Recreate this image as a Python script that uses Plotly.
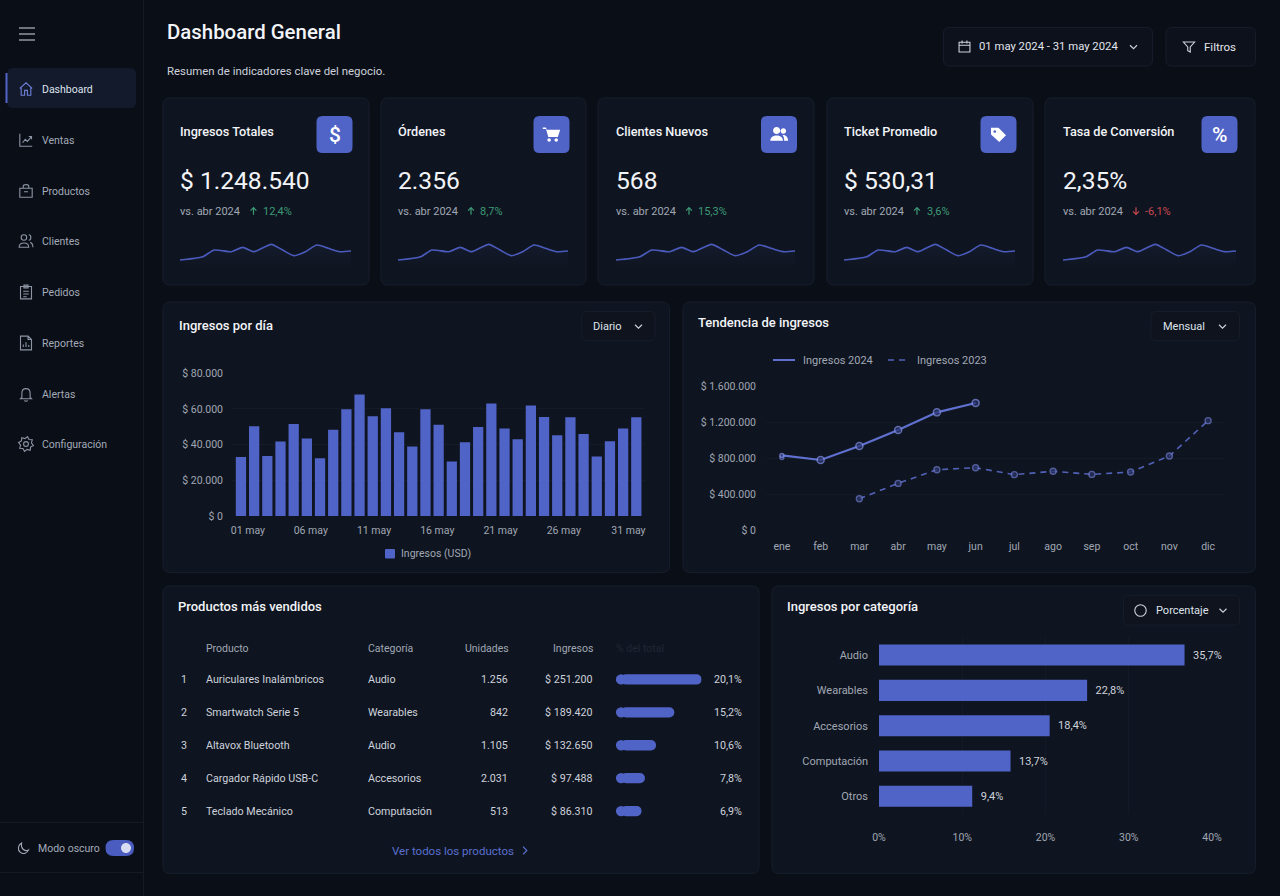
import math
import re
import plotly.graph_objects as go

# ---- data ----
nav_labels = ["Dashboard", "Ventas", "Productos", "Clientes", "Pedidos", "Reportes", "Alertas", "Configuración"]

kpi_titles = ["Ingresos Totales", "Órdenes", "Clientes Nuevos", "Ticket Promedio", "Tasa de Conversión"]
kpi_values = ["$ 1.248.540", "2.356", "568", "$ 530,31", "2,35%"]
kpi_deltas = ["12,4%", "8,7%", "15,3%", "3,6%", "-6,1%"]
kpi_up = [True, True, True, True, False]

spark_days = [1, 5, 7, 10, 12, 14, 17, 19, 21, 23, 25, 27, 29, 31]
spark_values = [20, 30, 50, 45, 58, 45, 67, 50, 33, 45, 65, 55, 45, 47]

days = list(range(1, 32))
daily_income = [33100, 50300, 33700, 41700, 51600, 43400, 32400, 48300, 59800, 68100, 55900, 60400,
                46900, 38900, 59800, 51200, 30500, 41300, 49900, 63000, 49000, 43000, 61900, 55500,
                45300, 55400, 46000, 33300, 41900, 49000, 55400]
day_labels = ["01 may", "06 may", "11 may", "16 may", "21 may", "26 may", "31 may"]
day_y_vals = [0, 20000, 40000, 60000, 80000]
day_y_text = ["$ 0", "$ 20.000", "$ 40.000", "$ 60.000", "$ 80.000"]

months = ["ene", "feb", "mar", "abr", "may", "jun", "jul", "ago", "sep", "oct", "nov", "dic"]
income_2024 = [829000, 778000, 933000, 1111000, 1307000, 1411000, None, None, None, None, None, None]
income_2023 = [805000, None, 348000, 518000, 670000, 692000, 615000, 652000, 618000, 644000, 822000, 1215000]
month_y_vals = [0, 400000, 800000, 1200000, 1600000]
month_y_text = ["$ 0", "$ 400.000", "$ 800.000", "$ 1.200.000", "$ 1.600.000"]

table_head = ["Producto", "Categoría", "Unidades", "Ingresos", "% del total"]
products = ["Auriculares Inalámbricos", "Smartwatch Serie 5", "Altavox Bluetooth", "Cargador Rápido USB-C", "Teclado Mecánico"]
product_cats = ["Audio", "Wearables", "Audio", "Accesorios", "Computación"]
product_units = ["1.256", "842", "1.105", "2.031", "513"]
product_income = ["$ 251.200", "$ 189.420", "$ 132.650", "$ 97.488", "$ 86.310"]
product_share = ["20,1%", "15,2%", "10,6%", "7,8%", "6,9%"]
product_bar_lengths = [20.1, 13.7, 9.4, 6.8, 6.0]

categories = ["Audio", "Wearables", "Accesorios", "Computación", "Otros"]
category_bar_lengths = [36.7, 25.0, 20.5, 15.8, 11.2]
category_labels = ["35,7%", "22,8%", "18,4%", "13,7%", "9,4%"]
category_x_vals = [0, 10, 20, 30, 40]
category_x_text = ["0%", "10%", "20%", "30%", "40%"]

# ---- colours ----
BG = "#0a0e17"
CARD = "#0f1520"
BORDER = "#161d2a"
GRID = "#141b27"
BLUE = "#5063c6"
TXT = "#f2f4f8"
TXT2 = "#cdd2dc"
TXT3 = "#a0a7b4"
FONT = "Roboto"
W, H = 1280, 896

shapes = []
notes = []


def rrect(x0, y0, x1, y1, r, fill=None, line=None, lw=1):
    d = (f"M{x0+r} {y0} L{x1-r} {y0} Q{x1} {y0} {x1} {y0+r} L{x1} {y1-r} Q{x1} {y1} {x1-r} {y1} "
         f"L{x0+r} {y1} Q{x0} {y1} {x0} {y1-r} L{x0} {y0+r} Q{x0} {y0} {x0+r} {y0} Z")
    shapes.append(dict(type="path", path=d, xref="x", yref="y", layer="below", fillcolor=fill or "rgba(0,0,0,0)",
                       line=dict(color=line or "rgba(0,0,0,0)", width=lw if line else 0)))


def circ(cx, cy, r):
    k = 0.552 * r
    return (f"M{cx+r} {cy} C{cx+r} {cy+k} {cx+k} {cy+r} {cx} {cy+r} C{cx-k} {cy+r} {cx-r} {cy+k} {cx-r} {cy} "
            f"C{cx-r} {cy-k} {cx-k} {cy-r} {cx} {cy-r} C{cx+k} {cy-r} {cx+r} {cy-k} {cx+r} {cy} Z")


def icon(d, cx, cy, size, line=None, fill=None, lw=1.1):
    # icon paths are written in a 24x24 box, moved and scaled to the page here
    s = size / 24
    out = []
    for cmd, args in re.findall(r"([MLCQZ])([^MLCQZ]*)", d):
        nums = [float(n) for n in args.split()]
        pts = []
        for i, n in enumerate(nums):
            pts.append(f"{(n - 12) * s + (cy if i % 2 else cx):.2f}")
        out.append(cmd + " ".join(pts))
    shapes.append(dict(type="path", path=" ".join(out), xref="x", yref="y", layer="below",
                       fillcolor=fill or "rgba(0,0,0,0)",
                       line=dict(color=line or "rgba(0,0,0,0)", width=lw if line else 0)))


def txt(x, y, s, size=11, color=TXT2, anchor="left", weight=400):
    notes.append(dict(x=x, y=y, xref="x", yref="y", text=s, showarrow=False, xanchor=anchor, yanchor="middle",
                      borderpad=0, borderwidth=0, font=dict(family=FONT, size=size, color=color, weight=weight)))


def hline(x0, x1, y, color=BORDER, dash="solid", lw=1):
    shapes.append(dict(type="line", x0=x0, x1=x1, y0=y, y1=y, xref="x", yref="y", layer="below",
                       line=dict(color=color, width=lw, dash=dash)))


def xdom(x0, x1):
    return [x0 / W, x1 / W]


def ydom(y0, y1):
    return [1 - y1 / H, 1 - y0 / H]


def gear_path():
    pts = []
    for i in range(16):
        a = i * math.pi / 8 + math.pi / 16
        r = 11 if i % 2 == 0 else 8
        pts.append(f"{12 + r * math.cos(a):.2f} {12 + r * math.sin(a):.2f}")
    return "M" + " L".join(pts) + " Z " + circ(12, 12, 3.5)


CHEVRON = "M6 9 L12 15 L18 9"
CHEVRON_R = "M9 6 L15 12 L9 18"
nav_icons = [
    "M3 11 L12 3 L21 11 M5 9 L5 21 L10 21 L10 14 L14 14 L14 21 L19 21 L19 9",
    "M3 3 L3 21 L21 21 M7 16 L11 11 L14 14 L20 7 M16 7 L20 7 L20 11",
    "M3 8 L21 8 L21 21 L3 21 Z M8 8 L8 5 C8 2 16 2 16 5 L16 8 M9 13 L15 13",
    circ(9, 7, 4) + " M2 21 C2 13 16 13 16 21 Z M16 3 C20 3 20 11 16 11 M18 14 C21 15 22 18 22 21",
    "M4 4 L20 4 L20 22 L4 22 Z M9 2 L15 2 L15 6 L9 6 Z M8 11 L16 11 M8 15 L16 15 M8 19 L13 19",
    "M4 2 L15 2 L20 7 L20 22 L4 22 Z M15 2 L15 7 L20 7 M8 18 L8 14 M12 18 L12 11 M16 18 L16 15",
    "M6 17 L6 11 C6 2 18 2 18 11 L18 17 L20 19 L4 19 Z M10 21 C10 23 14 23 14 21",
    gear_path(),
]
nav_y = [89, 140, 191, 241, 292, 343, 394, 444]

# ---- sidebar ----
shapes.append(dict(type="line", x0=143.5, x1=143.5, y0=0, y1=H, xref="x", yref="y", layer="below",
                   line=dict(color="#141a26", width=1)))
for yy in (28, 34, 40):
    hline(19, 35, yy, "#d5d9e2")
rrect(7, 68, 136, 108, 6, fill="#121a2c")
shapes.append(dict(type="line", x0=6.5, x1=6.5, y0=73, y1=103, xref="x", yref="y", layer="below",
                   line=dict(color=BLUE, width=2)))
for i, lab in enumerate(nav_labels):
    sel = i == 0
    txt(42, nav_y[i], lab, 10.5, "#dfe3ec" if sel else "#a3aab8")
    icon(nav_icons[i], 26, nav_y[i], 16.5, line="#6f80d8" if sel else "#8d94a3")
hline(0, 143, 822.5, "#141a26")
hline(0, 143, 872.5, "#141a26")
icon("M20 15 C15 18 7 14 9 4 C3 7 2 15 7 19 C12 23 18 20 20 15 Z", 23.5, 848, 15, line="#a3aab8")
txt(38, 848, "Modo oscuro", 10.5, "#a3aab8")
rrect(105.5, 840, 134, 856, 8, fill="#4a5cc0")
icon(circ(12, 12, 12), 126, 848, 10, fill="#d8dcf2")

# ---- header ----
txt(167, 32, "Dashboard General", 20.4, TXT, weight=500)
txt(167, 70.5, "Resumen de indicadores clave del negocio.", 11.4, TXT2)
rrect(943.5, 27.5, 1152.5, 66, 6, fill="#0c111b", line=BORDER)
rrect(1166, 27.5, 1255.5, 66, 6, fill="#0c111b", line=BORDER)
icon("M3 5 L21 5 L21 21 L3 21 Z M3 10 L21 10 M8 2 L8 7 M16 2 L16 7", 964.5, 46.5, 14.5, line="#cdd2dc")
txt(979, 46.5, "01 may 2024 - 31 may 2024", 11.3, "#e2e5ec")
icon(CHEVRON, 1133.5, 47, 14, line="#cdd2dc")
icon("M3 4 L21 4 L14 12 L14 20 L10 18 L10 12 Z", 1189, 47, 15, line="#cdd2dc")
txt(1204, 46.5, "Filtros", 11.5, "#e2e5ec")

# ---- kpi cards ----
kpi_cards = [(163, 369), (381, 586), (598, 814), (827, 1033), (1045, 1255)]
kpi_icon_x = [334.5, 551.5, 779, 998.5, 1219.5]
kpi_spark_x = [(180, 351), (398, 568), (616, 795), (844, 1015), (1063, 1236)]
kpi_arrow_x = [253.5, 471, 689, 917, 1136]
kpi_delta_x = [263, 480, 698, 927, 1145]

for i, (x0, x1) in enumerate(kpi_cards):
    rrect(x0, 98, x1, 285, 7, fill=CARD, line=BORDER)
    tx = kpi_spark_x[i][0]
    txt(tx, 131, kpi_titles[i], 12.7, TXT, weight=500)
    txt(tx, 180, kpi_values[i], 24.6, TXT)
    txt(tx, 211, "vs. abr 2024", 11, TXT3)
    col = "#3c9a76" if kpi_up[i] else "#c9464f"
    ax = kpi_arrow_x[i]
    if kpi_up[i]:
        icon("M12 21 L12 4 M5 11 L12 4 L19 11", ax, 211, 10, line=col, lw=1.2)
    else:
        icon("M12 3 L12 20 M5 13 L12 20 L19 13", ax, 211, 10, line=col, lw=1.2)
    txt(kpi_delta_x[i], 211, kpi_deltas[i], 11, col)
    ix = kpi_icon_x[i]
    rrect(ix - 18, 116, ix + 18, 153, 6, fill=BLUE)

txt(kpi_icon_x[0], 134.5, "$", 21, "#ffffff", "center", 500)
icon("M1 3 L5 3 L6 6 L23 6 L20 15 L8 15 L5 5 L1 5 Z " + circ(9, 19, 2.2) + " " + circ(18, 19, 2.2),
     kpi_icon_x[1], 134.5, 19, fill="#ffffff")
icon(circ(9, 7, 4.5) + " M1 20 C1 11 17 11 17 20 Z " + circ(17.5, 7.5, 3.5) + " M18.5 20 C18.5 17 18 14 16.5 12.8 C20 12 23.5 15 23.5 20 Z",
     kpi_icon_x[2], 134.5, 19, fill="#ffffff")
icon("M2 3 L12 3 L22 13 L13 22 L2 12 Z", kpi_icon_x[3], 134.5, 18, fill="#ffffff")
icon(circ(7, 8, 1.8), kpi_icon_x[3], 134.5, 18, fill=BLUE)
txt(kpi_icon_x[4], 134.5, "%", 21, "#ffffff", "center", 500)

# ---- chart cards ----
rrect(163, 302, 669.5, 572.5, 7, fill=CARD, line=BORDER)
rrect(683, 302, 1255.5, 572.5, 7, fill=CARD, line=BORDER)
rrect(163, 586, 759, 873.5, 7, fill=CARD, line=BORDER)
rrect(772, 586, 1255.5, 873.5, 7, fill=CARD, line=BORDER)

txt(179, 325, "Ingresos por día", 13, TXT, weight=500)
txt(698, 322, "Tendencia de ingresos", 13, TXT, weight=500)
txt(178, 606, "Productos más vendidos", 13, TXT, weight=500)
txt(787, 606, "Ingresos por categoría", 13, TXT, weight=500)

rrect(582, 311.5, 655, 340.5, 5, fill="#0e131d", line=BORDER)
txt(607.5, 326, "Diario", 11, "#dfe3ec", "center")
icon(CHEVRON, 638.5, 326.5, 14, line="#cdd2dc")
rrect(1151, 311.5, 1239.5, 340.5, 5, fill="#0e131d", line=BORDER)
txt(1184, 326, "Mensual", 11, "#dfe3ec", "center")
icon(CHEVRON, 1222.5, 326.5, 14, line="#cdd2dc")
rrect(1123.5, 595.5, 1239.5, 625, 5, fill="#0e131d", line=BORDER)
icon(circ(12, 12, 11), 1140.5, 610.5, 12.5, line="#cdd2dc")
txt(1182, 610.5, "Porcentaje", 11, "#dfe3ec", "center")
icon(CHEVRON, 1223, 610.5, 14, line="#cdd2dc")

# ---- legends ----
rrect(385, 549, 395, 558.5, 1, fill=BLUE)
txt(401, 553.5, "Ingresos (USD)", 10.5, TXT3)
hline(773, 795, 360, "#5f6fce", lw=2)
txt(803, 360, "Ingresos 2024", 11, TXT3)
hline(888, 909, 360, "#5261b8", dash="6px,5px", lw=1.6)
txt(917, 360, "Ingresos 2023", 11, TXT3)

# ---- table text ----
txt(206, 648, table_head[0], 10.5, TXT3)
txt(368, 648, table_head[1], 10.5, TXT3)
txt(509, 648, table_head[2], 10.5, TXT3, "right")
txt(593, 648, table_head[3], 10.5, TXT3, "right")
txt(616, 648, table_head[4], 10.5, "#1f2735")
row_y = [679.5, 712, 745, 778, 811]
for i in range(5):
    txt(180.5, row_y[i], str(i + 1), 10.7, TXT2)
    txt(206, row_y[i], products[i], 10.7, TXT2)
    txt(368, row_y[i], product_cats[i], 10.7, TXT2)
    txt(508, row_y[i], product_units[i], 10.7, TXT2, "right")
    txt(593, row_y[i], product_income[i], 10.7, TXT2, "right")
    txt(742, row_y[i], product_share[i], 10.7, TXT2, "right")
txt(392, 850.5, "Ver todos los productos", 11.5, "#5a6fd0")
icon(CHEVRON_R, 525, 850.5, 15, line="#5a6fd0")

# ---- traces ----
traces = []
tick_font = dict(family=FONT, size=10.5, color=TXT3)

traces.append(go.Scatter(x=[None], y=[None], xaxis="x", yaxis="y", showlegend=False, hoverinfo="skip"))

traces.append(go.Bar(x=days, y=daily_income, name="Ingresos (USD)", marker=dict(color=BLUE, line_width=0),
                     width=0.78, xaxis="x2", yaxis="y2", showlegend=False))

traces.append(go.Scatter(x=months, y=income_2023, mode="lines+markers", name="Ingresos 2023", xaxis="x3", yaxis="y3",
                         line=dict(color="#5261b8", width=1.6, dash="6px,5px"), showlegend=False,
                         marker=dict(size=[4] + [6] * 11, color="#2b3468", line=dict(color="#6f7dd0", width=1.4))))
traces.append(go.Scatter(x=months, y=income_2024, mode="lines+markers", name="Ingresos 2024", xaxis="x3", yaxis="y3",
                         line=dict(color="#5f70d0", width=2.2), showlegend=False,
                         marker=dict(size=[4] + [7] * 11, color="#2a3470", line=dict(color="#8391e6", width=1.5))))

cap = 1.2
traces.append(go.Bar(x=[v - cap for v in product_bar_lengths], y=products, base=cap, orientation="h", showlegend=False,
                     width=0.313, marker=dict(color=BLUE, line_width=0, cornerradius=5), xaxis="x4", yaxis="y4"))
traces.append(go.Scatter(x=[cap] * 5, y=products, mode="markers", showlegend=False, xaxis="x4", yaxis="y4",
                         marker=dict(size=10.3, color=BLUE, line_width=0)))

traces.append(go.Bar(x=category_bar_lengths, y=categories, orientation="h", showlegend=False, xaxis="x5", yaxis="y5",
                     width=0.595, marker=dict(color=BLUE, line_width=0),
                     text=["\u00a0\u00a0" + t for t in category_labels], textposition="outside", cliponaxis=False,
                     textfont=dict(family=FONT, size=11, color=TXT2)))

layout = dict(
    width=W, height=H, margin=dict(l=0, r=0, t=0, b=0, pad=0, autoexpand=False),
    paper_bgcolor=BG, plot_bgcolor="rgba(0,0,0,0)",
    barmode="overlay", font=dict(family=FONT), hovermode=False, shapes=shapes, annotations=notes, showlegend=False,
    xaxis=dict(domain=[0, 1], range=[0, W], visible=False, fixedrange=True),
    yaxis=dict(domain=[0, 1], range=[H, 0], visible=False, fixedrange=True),
    xaxis2=dict(domain=xdom(232, 645), range=[0.32, 31.66], anchor="y2", showgrid=False, zeroline=False,
                tickmode="array", tickvals=[1.53, 6.3, 11.1, 15.9, 20.7, 25.5, 30.4], ticktext=day_labels,
                tickfont=tick_font, ticks="", ticklabelstandoff=6, fixedrange=True),
    yaxis2=dict(domain=ydom(373.3, 516), range=[0, 80000], anchor="x2", gridcolor=GRID, zeroline=False,
                tickmode="array", tickvals=day_y_vals, ticktext=day_y_text, tickfont=tick_font,
                ticks="", ticklabelstandoff=8, fixedrange=True),
    xaxis3=dict(domain=xdom(766, 1224), range=[-0.41, 11.41], anchor="y3", type="category",
                categoryorder="array", categoryarray=months, showgrid=False, zeroline=False,
                tickfont=tick_font, ticks="", ticklabelstandoff=8, fixedrange=True),
    yaxis3=dict(domain=ydom(386, 530), range=[0, 1600000], anchor="x3", gridcolor=GRID, zeroline=False,
                tickmode="array", tickvals=month_y_vals, ticktext=month_y_text, tickfont=tick_font,
                ticks="", ticklabelstandoff=9, fixedrange=True),
    xaxis4=dict(domain=xdom(616, 701.6), range=[0, 20.1], anchor="y4", visible=False, fixedrange=True),
    yaxis4=dict(domain=ydom(663, 827.5), anchor="x4", type="category", categoryorder="array",
                categoryarray=products[::-1], visible=False, fixedrange=True),
    xaxis5=dict(domain=xdom(879, 1212), range=[0, 40], anchor="y5", gridcolor="#131a27", zeroline=False,
                tickmode="array", tickvals=category_x_vals, ticktext=category_x_text, tickfont=tick_font,
                ticks="", ticklabelstandoff=15, fixedrange=True),
    yaxis5=dict(domain=ydom(637.4, 814), anchor="x5", type="category", categoryorder="array",
                categoryarray=categories[::-1], showgrid=False, zeroline=False,
                tickfont=dict(family=FONT, size=11, color=TXT3), ticks="", ticklabelstandoff=10, fixedrange=True),
)

# sparklines, one small pair of axes per card
for i, (x0, x1) in enumerate(kpi_spark_x):
    n = i + 6
    traces.append(go.Scatter(x=spark_days, y=spark_values, mode="lines", showlegend=False,
                             xaxis=f"x{n}", yaxis=f"y{n}",
                             line=dict(color="#4b5bbd", width=1.6, shape="spline", smoothing=0.6),
                             fill="tozeroy",
                             fillgradient=dict(type="vertical", colorscale=[[0, "rgba(80,99,198,0)"],
                                                                            [1, "rgba(80,99,198,0.07)"]])))
    layout[f"xaxis{n}"] = dict(domain=xdom(x0, x1), range=[1, 31], anchor=f"y{n}", visible=False, fixedrange=True)
    layout[f"yaxis{n}"] = dict(domain=ydom(236, 276), range=[-28, 92], anchor=f"x{n}", visible=False, fixedrange=True)

fig = go.Figure(data=traces, layout=layout)

# the page's default body margin would push the 1280 px figure off the window
fig.write_html("out.html", config=dict(displayModeBar=False),
               post_script="document.body.style.margin='0';document.body.style.background='" + BG + "';")
